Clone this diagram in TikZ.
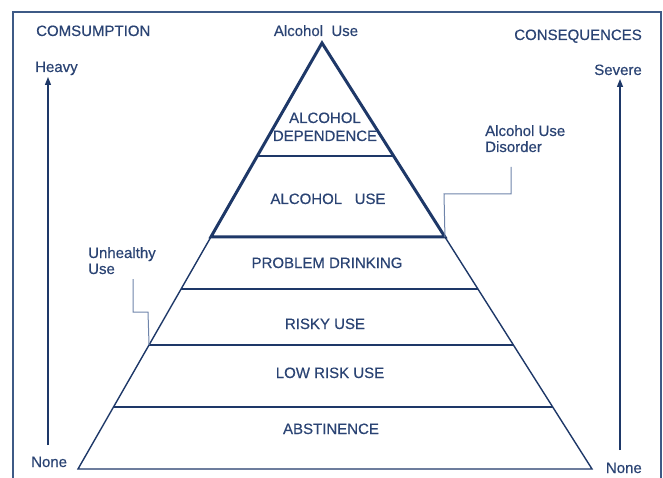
\documentclass[tikz,border=0pt]{standalone}
\usepackage{fontspec}
\setmainfont[FakeBold=0.45]{Liberation Sans}
\usetikzlibrary{calc,arrows.meta}
\definecolor{navy}{HTML}{1E3868}
\definecolor{ink}{HTML}{2A4373}
\definecolor{rim}{HTML}{3E5A86}
\definecolor{lead}{HTML}{6F84AA}
\tikzset{
  lbl/.style={font=\fontsize{15}{17}\selectfont, text=ink, inner sep=0pt},
  thin/.style={draw=navy, line width=1.4pt},
  bold/.style={draw=navy, line width=3pt},
  mid/.style={draw=navy, line width=2.2pt},
  leader/.style={draw=lead, line width=1pt},
  scale arrow/.style={draw=navy, line width=1.3pt, -{Triangle[length=8pt,width=6pt]}}
}
\begin{document}
\begin{tikzpicture}[x=1pt,y=-1pt]
\useasboundingbox (0,0) rectangle (663,478);
% outer frame
\draw[rim, line width=1.5pt] (13,478) -- (13,12) -- (661,12) -- (661,478);

% pyramid corners
\coordinate (apex) at (322,43);
\coordinate (bl) at (78,469);
\coordinate (br) at (592,469);
% level boundaries along both sides
\foreach \n/\t in {a/0.2653, b/0.4554, c/0.5775, d/0.7089, e/0.8545}{
  \coordinate (L\n) at ($(apex)!\t!(bl)$);
  \coordinate (R\n) at ($(apex)!\t!(br)$);
}
% lower part of the pyramid
\draw[thin] (Lb) -- (bl) -- (br) -- (Rb);
\draw[thin] (Lc) -- (Rc);
\draw[mid] (Ld) -- (Rd);
\draw[thin] (Le) -- (Re);
% upper triangle: alcohol use disorder
\draw[thin] (La) -- (Ra);
\draw[bold, line join=miter] (Lb) -- (apex) -- (Rb) -- cycle;

% level labels
\node[lbl, anchor=base] (dep1) at (325,123) {ALCOHOL};
\node[lbl, anchor=base] (dep2) at (325,141) {DEPENDENCE};
\node[lbl, anchor=base] (use) at (328,204) {ALCOHOL\ \ \ USE};
\node[lbl, anchor=base] (prob) at (327,268) {PROBLEM DRINKING};
\node[lbl, anchor=base] (risky) at (325,329) {RISKY USE};
\node[lbl, anchor=base] (low) at (330,378) {LOW RISK USE};
\node[lbl, anchor=base] (abst) at (331,434) {ABSTINENCE};

% headings
\node[lbl, anchor=base west] (cons) at (36,36) {COMSUMPTION};
\node[lbl, anchor=base] (top) at (316,36) {Alcohol\ \ Use};
\node[lbl, anchor=base east] (conq) at (642,40) {CONSEQUENCES};

% side scales
\node[lbl, anchor=base west] (heavy) at (35,72) {Heavy};
\node[lbl, anchor=base west] (none1) at (31,467) {None};
\node[lbl, anchor=base east] (severe) at (642,75) {Severe};
\node[lbl, anchor=base east] (none2) at (642,473) {None};
\coordinate (lfoot) at (48,445);
\coordinate (ltip) at (48,77);
\coordinate (rfoot) at (620,450);
\coordinate (rtip) at (620,79);
\draw[scale arrow] (lfoot) -- (ltip);
\draw[scale arrow] (rfoot) -- (rtip);

% bracket labels with leader lines
\node[lbl, anchor=base west] (aud) at (485,136) {Alcohol Use};
\node[lbl, anchor=base west] (aud2) at (485,152) {Disorder};
\coordinate (audk1) at (511,167);
\coordinate (audk2) at (511,194);
\coordinate (audk3) at (444,194);
\draw[leader] (audk1) -- (audk2) -- (audk3) -- (Rb);
\node[lbl, anchor=base west] (unh) at (88,258) {Unhealthy};
\node[lbl, anchor=base west] (unh2) at (88,274) {Use};
\coordinate (unk1) at (133,279);
\coordinate (unk2) at (133,312);
\coordinate (unk3) at (148,312);
\draw[leader] (unk1) -- (unk2) -- (unk3) -- (Ld);
\end{tikzpicture}
\end{document}
